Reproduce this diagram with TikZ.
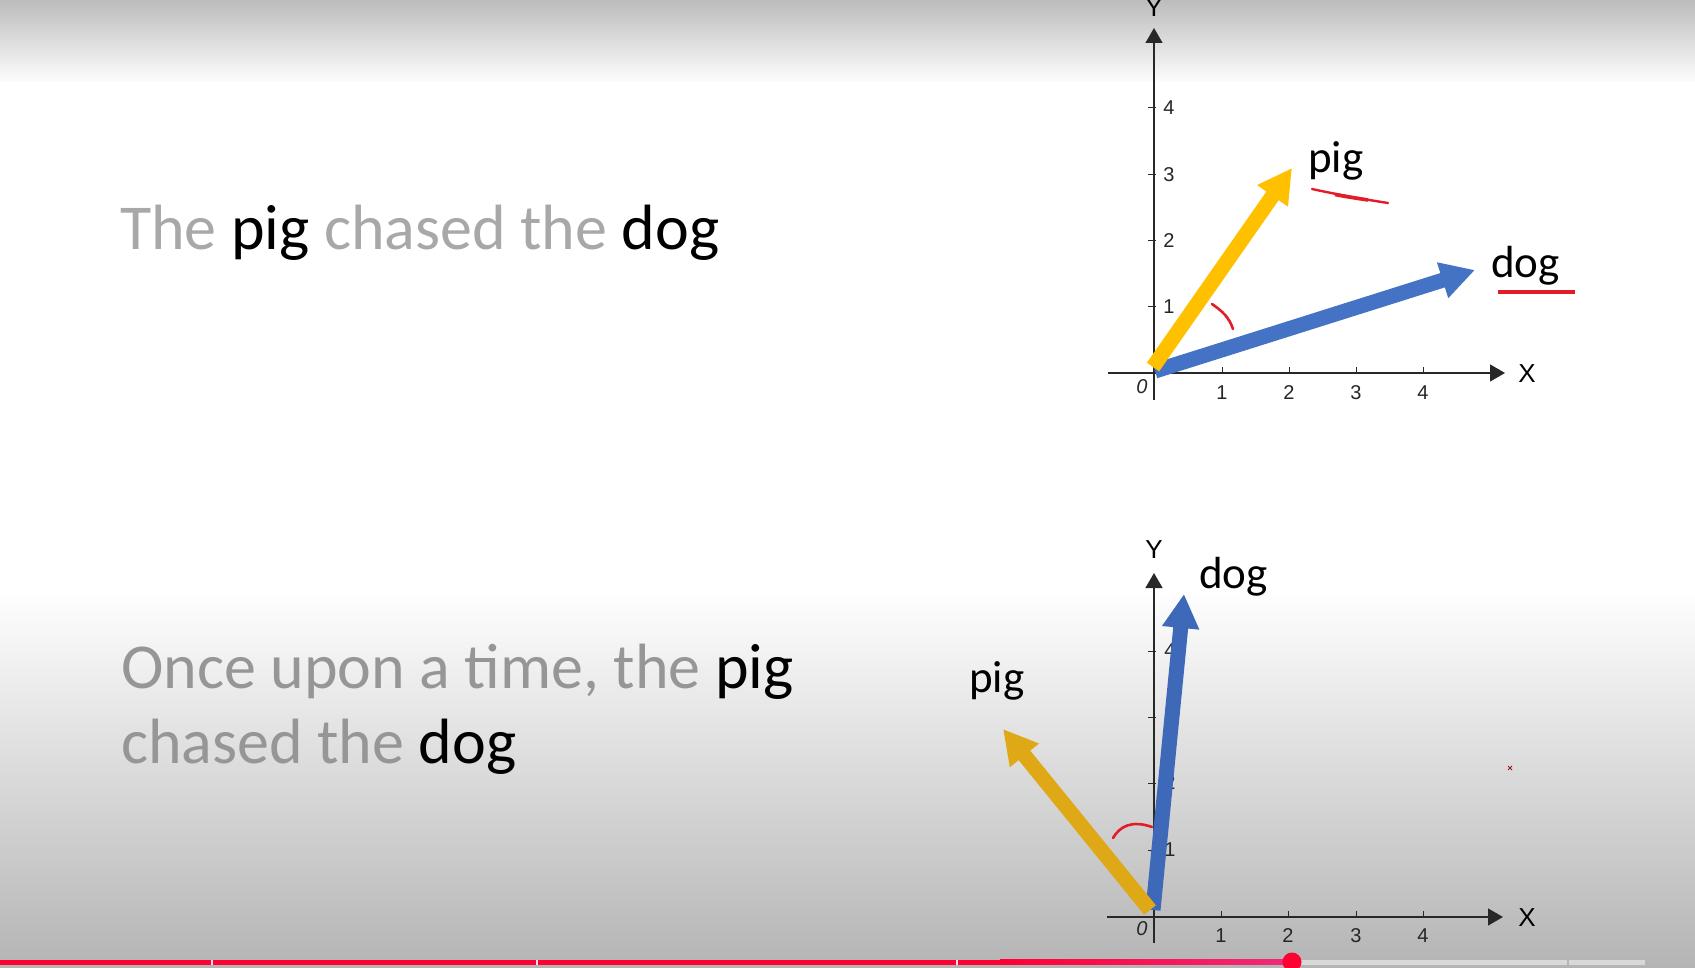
\documentclass[tikz,border=0pt]{standalone}
\usepackage{fontspec}
\setmainfont{Carlito}
\newfontfamily\axfont{Liberation Sans}
\usetikzlibrary{arrows.meta}
\definecolor{txtgrey}{RGB}{168,168,168}
\definecolor{txtgreyB}{RGB}{150,150,150}
\definecolor{topgrey}{RGB}{188,188,188}
\definecolor{topfade}{RGB}{253,253,253}
\definecolor{botgrey}{RGB}{180,180,180}
\definecolor{axcol}{RGB}{40,40,40}
\definecolor{yelA}{RGB}{255,192,0}
\definecolor{bluA}{RGB}{68,114,196}
\definecolor{yelB}{RGB}{222,168,22}
\definecolor{bluB}{RGB}{62,105,185}
\definecolor{penred}{RGB}{226,28,40}
\definecolor{ytred}{RGB}{255,0,51}
\definecolor{ytpink}{RGB}{240,42,122}
\definecolor{ytgrey}{RGB}{216,216,216}
\tikzset{
  axisline/.style={line width=1.3pt, draw=axcol, -{Triangle[length=15pt,width=17pt]}},
  tickmark/.style={line width=1pt, draw=axcol},
  ticklab/.style={font=\axfont\fontsize{20}{20}\selectfont, inner sep=0pt, text=black!85},
  axlab/.style={font=\axfont\fontsize{26}{26}\selectfont, inner sep=0pt},
  vec/.style={line width=15pt, -{Triangle[length=34pt,width=35pt]}},
  penmark/.style={draw=penred, line width=2.6pt, line cap=round, line join=round},
  wordlbl/.style={font=\fontsize{45}{45}\selectfont, anchor=base west, inner sep=0pt},
  sentence/.style={font=\fontsize{64}{75}\selectfont, anchor=base west, inner sep=0pt, align=left},
}
\begin{document}
\begin{tikzpicture}[x=1pt,y=-1pt]
\useasboundingbox (0,0) rectangle (1695,968);
% background
\fill[white] (0,0) rectangle (1695,968);
\shade[top color=topgrey, bottom color=topfade] (0,0) rectangle (1695,82);
\shade[top color=white, bottom color=botgrey] (0,588) rectangle (1695,968);

% sentences
\node[sentence] (s1) at (120,250) {\textcolor{txtgrey}{The} pig \textcolor{txtgrey}{chased the} dog};
\node[sentence] (s2a) at (121,688) {\textcolor{txtgreyB}{Once upon a time, the} pig};
\node[sentence] (s2b) at (121,763) {\textcolor{txtgreyB}{chased the} dog};

% ===== top graph =====
\coordinate (taxL) at (1108,373);
\coordinate (taxR) at (1505,373);
\coordinate (tayB) at (1154,400);
\coordinate (tayT) at (1154,28);
\foreach \i/\x in {1/1222,2/1289,3/1356,4/1423}{
  \draw[tickmark] (\x,367) -- (\x,373);
  \node[ticklab] (txl\i) at (\x,393) {\i};
}
\foreach \i/\y in {1/307,2/241,3/175,4/108}{
  \draw[tickmark] (1148,\y) -- (1156,\y);
  \node[ticklab] (tyl\i) at (1169,\y) {\i};
}
\node[ticklab, font=\axfont\itshape\fontsize{20}{20}\selectfont] (to) at (1142,387) {0};
\draw[axisline] (taxL) -- (taxR);
\draw[axisline] (tayB) -- (tayT);
\node[axlab] (tX) at (1527,374) {X};
\node[axlab] (tY) at (1154,8) {Y};

\coordinate (tbs) at (1155,371);
\coordinate (tbe) at (1475,270);
\coordinate (tys) at (1153,367);
\coordinate (tye) at (1292,168);
\draw[vec, draw=bluA, fill=bluA] (tbs) -- (tbe);
\draw[vec, draw=yelA, fill=yelA] (tys) -- (tye);
\node[wordlbl] (tpig) at (1308,173) {pig};
\node[wordlbl] (tdog) at (1491,278) {dog};

\draw[penmark] (1212,304) .. controls (1222,311) and (1229,317) .. (1233,329);
\draw[penmark, line width=2.4pt] (1312,189) .. controls (1335,194) and (1362,199) .. (1388,203);
\draw[penmark, line width=3.6pt, line cap=butt] (1335,194.5) .. controls (1345,196.5) and (1355,198) .. (1368,200);
\draw[penmark, line width=3.2pt, line cap=butt] (1498,292) -- (1575,292);

% ===== bottom graph =====
\coordinate (baxL) at (1107,917);
\coordinate (baxR) at (1503,917);
\coordinate (bayB) at (1154,943);
\coordinate (bayT) at (1154,573);
\foreach \i/\x in {1/1221,2/1288,3/1356,4/1423}{
  \draw[tickmark] (\x,911) -- (\x,917);
  \node[ticklab] (bxl\i) at (\x,936) {\i};
}
\foreach \i/\y in {1/850,2/783,3/717,4/651}{
  \draw[tickmark] (1148,\y) -- (1156,\y);
  \node[ticklab] (byl\i) at (1170,\y) {\i};
}
\node[ticklab, font=\axfont\itshape\fontsize{20}{20}\selectfont] (bo) at (1142,929) {0};
\draw[axisline] (baxL) -- (baxR);
\draw[axisline] (bayB) -- (bayT);
\node[axlab] (bX) at (1527,918) {X};
\node[axlab] (bY) at (1154,550) {Y};

\coordinate (bbs) at (1153,910);
\coordinate (bbe) at (1184,594);
\coordinate (bys) at (1150,910);
\coordinate (bye) at (1003,729);
\draw[vec, draw=bluB, fill=bluB] (bbs) -- (bbe);
\draw[vec, draw=yelB, fill=yelB] (bys) -- (bye);
\node[wordlbl] (bdog) at (1199,588) {dog};
\node[wordlbl] (bpig) at (969,692) {pig};

\draw[penmark] (1113,838) .. controls (1120,826) and (1132,820) .. (1152,827);
\draw[penred!70!black, line width=0.8pt] (1508,766) -- (1512,770) (1508,770) -- (1512,766);

% ===== progress bar =====
\fill[ytred] (0,959.5) rectangle (1000,964.5);
\shade[left color=ytred, right color=ytpink] (1000,959.5) rectangle (1292,964.5);
\fill[ytgrey] (1292,959.5) rectangle (1567,964.5);
\fill[ytgrey] (1569,959.5) rectangle (1645,964.5);
\foreach \g in {212,537,957}{
  \fill[white!85!ytred] (\g-1,959.5) rectangle (\g+1,964.5);
}
\fill[ytred] (1292,962) circle (9.5);
\end{tikzpicture}
\end{document}
